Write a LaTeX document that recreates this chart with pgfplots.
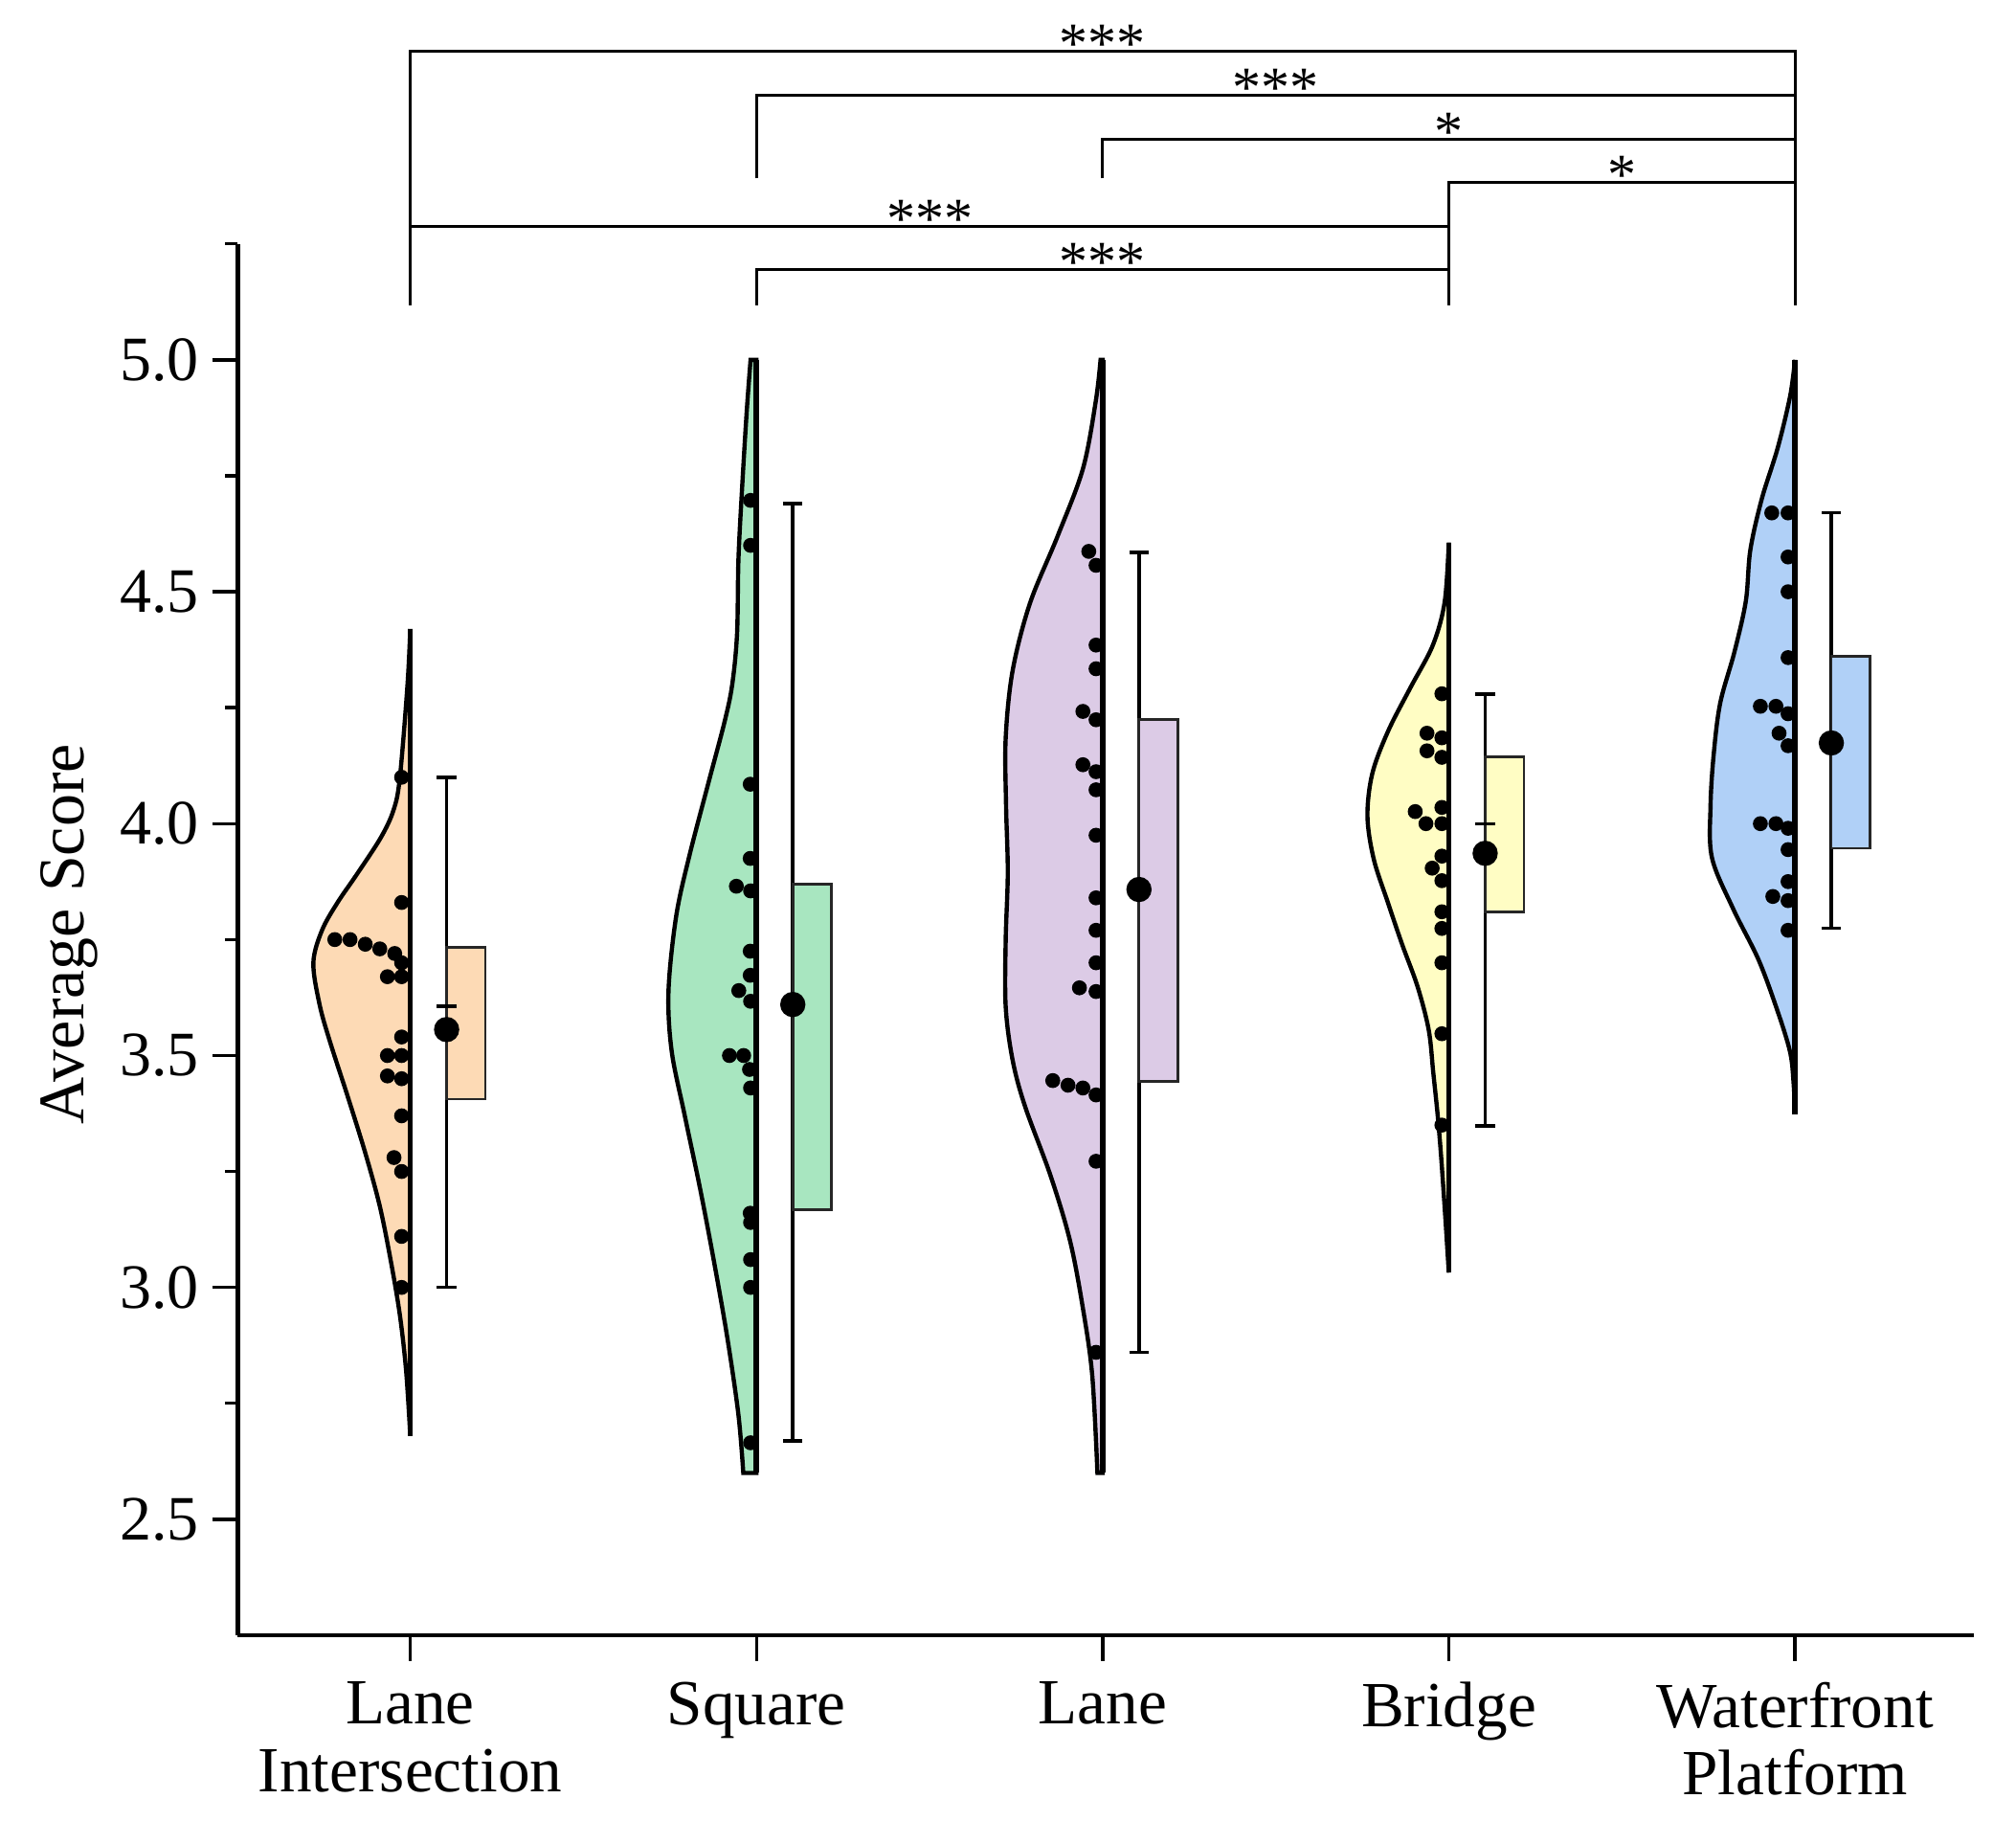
\documentclass[border=0pt]{standalone}
\usepackage{pgfplots}
\pgfplotsset{compat=1.18}
\usepackage{fontspec}
\setmainfont{Liberation Serif}
\definecolor{cOr}{RGB}{253,218,181}
\definecolor{cGr}{RGB}{168,230,192}
\definecolor{cPu}{RGB}{220,203,230}
\definecolor{cYe}{RGB}{255,253,196}
\definecolor{cBl}{RGB}{176,208,247}
\pgfplotsset{
  violin/.style={draw=black, line width=1.1pt, smooth, tension=0.55},
  edge/.style={black, line width=1.4pt},
  dots/.style={only marks, mark=*, mark size=1.75pt, black},
  whisk/.style={black, line width=0.85pt},
  boxst/.style={draw=black!85, line width=0.7pt},
  meanst/.style={only marks, mark=*, mark size=3.1pt, black},
  brk/.style={black, line width=0.8pt},
}
\begin{document}
\begin{tikzpicture}
\useasboundingbox (-62.125pt,-48.5pt) rectangle (464.375pt,427pt);
\begin{axis}[
  at={(0pt,0pt)}, anchor=south west,
  scale only axis, width=453.3pt, height=363.3pt,
  xmin=-0.498, xmax=4.516, ymin=2.25, ymax=5.25,
  axis lines=left, axis line style={-, line width=1.1pt},
  clip=false,
  xtick={0,1,2,3,4},
  xticklabels={Lane\\Intersection, Square, Lane, Bridge, Waterfront\\Platform},
  xticklabel style={align=center, yshift=-2pt, font=\fontsize{16.8}{17.6}\selectfont},
  ytick={2.5,3,3.5,4,4.5,5},
  minor ytick={2.75,3.25,3.75,4.25,4.75,5.25},
  yticklabel={\pgfmathprintnumber[fixed,fixed zerofill,precision=1,assume math mode=true]{\tick}},
  yticklabel style={font=\fontsize{16.5}{19}\selectfont},
  tick align=outside,
  major tick length=6.7pt, minor tick length=3.3pt,
  every tick/.style={black, line width=0.85pt},
  ylabel={Average Score},
  ylabel style={at={(axis description cs:-0.097,0.504)}, anchor=center, font=\fontsize{17}{19}\selectfont},
]
% ---------- Lane Intersection (0)
\addplot[violin, fill=cOr] coordinates {(0,4.42) (-0.008,4.30) (-0.03,4.10) (-0.048,4.03) (-0.085,3.97) (-0.155,3.89) (-0.21,3.83) (-0.255,3.77) (-0.28,3.70) (-0.262,3.61) (-0.232,3.53) (-0.18,3.41) (-0.13,3.29) (-0.088,3.175) (-0.056,3.056) (-0.03,2.94) (-0.012,2.82) (0,2.68)} -- cycle;
\addplot[edge] coordinates {(0,4.42) (0,2.68)};
\addplot[dots] coordinates {(-0.025,4.10) (-0.025,3.83) (-0.218,3.75) (-0.174,3.75) (-0.13,3.74) (-0.088,3.73) (-0.045,3.72) (-0.025,3.70) (-0.066,3.67) (-0.025,3.67) (-0.025,3.54) (-0.066,3.50) (-0.025,3.50) (-0.066,3.456) (-0.025,3.45) (-0.025,3.37) (-0.047,3.28) (-0.025,3.25) (-0.025,3.11) (-0.025,3.0)};
\addplot[whisk] coordinates {(0.105,3.0) (0.105,4.10)};
\addplot[whisk] coordinates {(0.077,4.10) (0.133,4.10)};
\addplot[whisk] coordinates {(0.077,3.0) (0.133,3.0)};
\addplot[boxst, fill=cOr] coordinates {(0.105,3.406) (0.217,3.406) (0.217,3.733) (0.105,3.733)} -- cycle;
\addplot[whisk] coordinates {(0.077,3.606) (0.133,3.606)};
\addplot[meanst] coordinates {(0.105,3.556)};
% ---------- Square (1)
\addplot[violin, fill=cGr] coordinates {(0.983,5.0) (0.972,4.89) (0.959,4.73) (0.948,4.57) (0.944,4.41) (0.93,4.30) (0.908,4.22) (0.862,4.09) (0.806,3.93) (0.768,3.80) (0.746,3.64) (0.755,3.51) (0.793,3.37) (0.838,3.21) (0.88,3.045) (0.917,2.886) (0.948,2.725) (0.962,2.60)} -- (axis cs:1,2.60) -- (axis cs:1,5.0) -- cycle;
\addplot[edge] coordinates {(1,5.0) (1,2.60)};
\addplot[dots] coordinates {(0.983,4.697) (0.983,4.60) (0.982,4.085) (0.982,3.925) (0.942,3.865) (0.983,3.855) (0.982,3.725) (0.982,3.673) (0.949,3.64) (0.983,3.617) (0.922,3.50) (0.963,3.50) (0.98,3.47) (0.983,3.43) (0.982,3.16) (0.983,3.14) (0.983,3.06) (0.983,3.0) (0.983,2.665)};
\addplot[whisk] coordinates {(1.105,2.669) (1.105,4.69)};
\addplot[whisk] coordinates {(1.077,4.69) (1.133,4.69)};
\addplot[whisk] coordinates {(1.077,2.669) (1.133,2.669)};
\addplot[boxst, fill=cGr] coordinates {(1.105,3.168) (1.217,3.168) (1.217,3.869) (1.105,3.869)} -- cycle;
\addplot[meanst] coordinates {(1.105,3.61)};
% ---------- Lane (2)
\addplot[violin, fill=cPu] coordinates {(1.994,5.0) (1.98,4.91) (1.943,4.765) (1.87,4.62) (1.79,4.475) (1.74,4.33) (1.72,4.185) (1.721,4.04) (1.726,3.895) (1.72,3.75) (1.72,3.605) (1.74,3.49) (1.776,3.39) (1.85,3.24) (1.906,3.10) (1.943,2.955) (1.97,2.81) (1.985,2.60)} -- (axis cs:2,2.60) -- (axis cs:2,5.0) -- cycle;
\addplot[edge] coordinates {(2,5.0) (2,2.60)};
\addplot[dots] coordinates {(1.96,4.587) (1.981,4.557) (1.981,4.385) (1.981,4.334) (1.943,4.242) (1.981,4.224) (1.943,4.127) (1.981,4.112) (1.981,4.073) (1.981,3.975) (1.981,3.84) (1.981,3.77) (1.981,3.70) (1.933,3.646) (1.981,3.638) (1.856,3.446) (1.9,3.436) (1.943,3.43) (1.981,3.415) (1.981,3.272) (1.981,2.86)};
\addplot[whisk] coordinates {(2.105,2.86) (2.105,4.585)};
\addplot[whisk] coordinates {(2.077,4.585) (2.133,4.585)};
\addplot[whisk] coordinates {(2.077,2.86) (2.133,2.86)};
\addplot[boxst, fill=cPu] coordinates {(2.105,3.445) (2.217,3.445) (2.217,4.224) (2.105,4.224)} -- cycle;
\addplot[meanst] coordinates {(2.105,3.858)};
% ---------- Bridge (3)
\addplot[violin, fill=cYe] coordinates {(3,4.606) (2.988,4.478) (2.954,4.385) (2.889,4.293) (2.825,4.20) (2.779,4.108) (2.765,4.016) (2.783,3.924) (2.824,3.83) (2.865,3.74) (2.91,3.648) (2.942,3.555) (2.955,3.464) (2.968,3.37) (2.978,3.28) (2.99,3.15) (3,3.032)} -- cycle;
\addplot[edge] coordinates {(3,4.606) (3,3.032)};
\addplot[dots] coordinates {(2.98,4.28) (2.937,4.195) (2.98,4.185) (2.937,4.157) (2.98,4.143) (2.98,4.035) (2.903,4.026) (2.934,4.0) (2.98,4.0) (2.98,3.93) (2.952,3.904) (2.98,3.877) (2.98,3.81) (2.98,3.774) (2.98,3.70) (2.98,3.547) (2.98,3.35)};
\addplot[whisk] coordinates {(3.105,3.348) (3.105,4.279)};
\addplot[whisk] coordinates {(3.077,4.279) (3.133,4.279)};
\addplot[whisk] coordinates {(3.077,3.348) (3.133,3.348)};
\addplot[boxst, fill=cYe] coordinates {(3.105,3.81) (3.217,3.81) (3.217,4.144) (3.105,4.144)} -- cycle;
\addplot[whisk] coordinates {(3.077,4.0) (3.133,4.0)};
\addplot[meanst] coordinates {(3.105,3.936)};
% ---------- Waterfront Platform (4)
\addplot[violin, fill=cBl] coordinates {(4,5.0) (3.986,4.922) (3.95,4.81) (3.904,4.70) (3.871,4.59) (3.858,4.48) (3.825,4.37) (3.784,4.26) (3.765,4.148) (3.756,4.038) (3.76,3.927) (3.821,3.817) (3.895,3.706) (3.95,3.595) (3.986,3.507) (3.996,3.44) (4,3.374)} -- cycle;
\addplot[edge] coordinates {(4,5.0) (4,3.374)};
\addplot[dots] coordinates {(3.933,4.67) (3.98,4.67) (3.98,4.575) (3.98,4.50) (3.98,4.358) (3.9,4.253) (3.945,4.253) (3.98,4.237) (3.954,4.195) (3.98,4.168) (3.9,4.0) (3.945,4.0) (3.98,3.99) (3.98,3.944) (3.98,3.875) (3.936,3.843) (3.98,3.834) (3.98,3.77)};
\addplot[whisk] coordinates {(4.105,3.775) (4.105,4.67)};
\addplot[whisk] coordinates {(4.077,4.67) (4.133,4.67)};
\addplot[whisk] coordinates {(4.077,3.775) (4.133,3.775)};
\addplot[boxst, fill=cBl] coordinates {(4.105,3.947) (4.217,3.947) (4.217,4.36) (4.105,4.36)} -- cycle;
\addplot[meanst] coordinates {(4.105,4.174)};
% ---------- significance brackets
\addplot[brk] coordinates {(0,5.118) (0,5.665) (4,5.665) (4,5.118)};
\addplot[brk] coordinates {(1,5.391) (1,5.570) (4,5.570)};
\addplot[brk] coordinates {(2,5.391) (2,5.475) (4,5.475)};
\addplot[brk] coordinates {(3,5.118) (3,5.382) (4,5.382)};
\addplot[brk] coordinates {(0,5.288) (3,5.288)};
\addplot[brk] coordinates {(1,5.118) (1,5.194) (3,5.194)};
\begin{scope}[every node/.style={anchor=base, inner sep=0pt, yshift=-3pt, font=\fontsize{15}{18}\selectfont}]
\node at (axis cs:2,5.665) {***};
\node at (axis cs:2.5,5.570) {***};
\node at (axis cs:3,5.475) {*};
\node at (axis cs:3.5,5.382) {*};
\node at (axis cs:1.5,5.288) {***};
\node at (axis cs:2,5.194) {***};
\end{scope}
\end{axis}
\end{tikzpicture}
\end{document}
